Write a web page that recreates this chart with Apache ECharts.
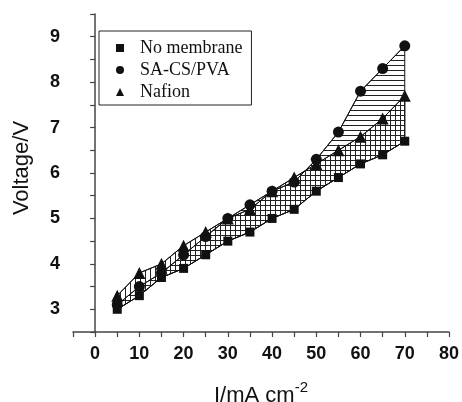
<!DOCTYPE html>
<html>
<head>
<meta charset="utf-8">
<script src="https://cdn.jsdelivr.net/npm/echarts@6/dist/echarts.min.js"></script>
<style>
  html, body { margin: 0; padding: 0; background: #fff; }
  #chart { width: 462px; height: 402px; }
</style>
</head>
<body>
<div id="chart"></div>
<script>
// current density (mA cm-2)
var currents = [5, 10, 15, 20, 25, 30, 35, 40, 45, 50, 55, 60, 65, 70];
// voltage (V)
var noMembrane = [3.0, 3.3, 3.7, 3.9, 4.2, 4.5, 4.7, 5.0, 5.2, 5.6, 5.9, 6.2, 6.4, 6.7];
var saCsPva    = [3.1, 3.5, 3.8, 4.2, 4.6, 5.0, 5.3, 5.6, 5.8, 6.3, 6.9, 7.8, 8.3, 8.8];
var nafion     = [3.3, 3.8, 4.0, 4.4, 4.7, 5.0, 5.2, 5.6, 5.9, 6.2, 6.5, 6.8, 7.2, 7.7];

var xTickLabels = [0, 10, 20, 30, 40, 50, 60, 70, 80];
var yTickLabels = [3, 4, 5, 6, 7, 8, 9];

function pairs(ys) {
  return currents.map(function (x, i) { return [x, ys[i]]; });
}

// hatch patterns
function hatch(horizontal) {
  var c = document.createElement('canvas');
  c.width = 5; c.height = 5;
  var ctx = c.getContext('2d');
  ctx.fillStyle = '#222';
  if (horizontal) ctx.fillRect(0, 0, 5, 1);
  else ctx.fillRect(0, 0, 1, 5);
  return c;
}

// polygon between two curves, drawn through the axes
function band(upper, lower, horizontal) {
  var pat = { image: hatch(horizontal), repeat: 'repeat' };
  return {
    type: 'custom',
    silent: true,
    z: 1,
    data: [[currents[0], lower[0]]],
    renderItem: function (params, api) {
      var pts = [];
      for (var i = 0; i < currents.length; i++) pts.push(api.coord([currents[i], upper[i]]));
      for (var j = currents.length - 1; j >= 0; j--) pts.push(api.coord([currents[j], lower[j]]));
      return {
        type: 'polygon',
        shape: { points: pts },
        style: { fill: pat, stroke: '#111', lineWidth: 1 }
      };
    }
  };
}

function lineSeries(name, ys, symbol, size) {
  return {
    name: name,
    type: 'line',
    data: pairs(ys),
    symbol: symbol,
    symbolSize: size,
    z: 3,
    lineStyle: { color: '#111', width: 1 },
    itemStyle: { color: '#111' }
  };
}

var chart = echarts.init(document.getElementById('chart'));
chart.setOption({
  animation: false,
  backgroundColor: '#fff',
  grid: { left: 73, right: 13, top: 14, bottom: 70, outerBoundsMode: 'none', containLabel: false },
  legend: {
    left: 99,
    top: 31,
    orient: 'vertical',
    padding: [8, 9, 4, 17],
    itemGap: 4,
    itemWidth: 8,
    itemHeight: 8,
    borderColor: '#222',
    borderWidth: 1,
    selectedMode: false,
    textStyle: {
      fontFamily: 'Liberation Serif',
      fontSize: 18,
      lineHeight: 18,
      color: '#111',
      padding: [0, 0, 0, 11]
    },
    data: [
      { name: 'No membrane', icon: 'rect' },
      { name: 'SA-CS/PVA', icon: 'circle' },
      { name: 'Nafion', icon: 'triangle' }
    ]
  },
  xAxis: {
    type: 'value',
    min: -5,
    max: 80,
    interval: 5,
    name: '{a|I/mA cm}{b|-2}',
    nameLocation: 'middle',
    nameGap: 48,
    nameTextStyle: {
      rich: {
        a: { fontFamily: 'Liberation Sans', fontSize: 22, lineHeight: 32, color: '#111' },
        b: { fontFamily: 'Liberation Sans', fontSize: 15, lineHeight: 12, color: '#111', verticalAlign: 'top' }
      }
    },
    splitLine: { show: false },
    axisLine: { lineStyle: { color: '#444', width: 1.5 } },
    axisTick: { length: 5, lineStyle: { color: '#444', width: 1.2 } },
    axisLabel: {
      margin: 13,
      fontFamily: 'Liberation Sans',
      fontWeight: 'bold',
      fontSize: 18,
      color: '#111',
      formatter: function (v) { return xTickLabels.indexOf(v) >= 0 ? String(v) : ''; }
    }
  },
  yAxis: {
    type: 'value',
    min: 2.5,
    max: 9.5,
    interval: 0.5,
    name: 'Voltage/V',
    nameLocation: 'middle',
    nameGap: 40,
    nameTextStyle: { fontFamily: 'Liberation Sans', fontSize: 22, color: '#111', padding: [0, 0, 0, 10] },
    splitLine: { show: false },
    axisLine: { show: true, lineStyle: { color: '#444', width: 1.5 } },
    axisTick: { show: true, length: 5, lineStyle: { color: '#444', width: 1.2 } },
    axisLabel: {
      margin: 13,
      fontFamily: 'Liberation Sans',
      fontWeight: 'bold',
      fontSize: 18,
      color: '#111',
      formatter: function (v) { return yTickLabels.indexOf(v) >= 0 ? String(v) : ''; }
    }
  },
  series: [
    band(saCsPva, noMembrane, true),
    band(nafion, noMembrane, false),
    lineSeries('No membrane', noMembrane, 'rect', 9),
    lineSeries('SA-CS/PVA', saCsPva, 'circle', 11),
    lineSeries('Nafion', nafion, 'triangle', 12)
  ]
});
</script>
</body>
</html>
